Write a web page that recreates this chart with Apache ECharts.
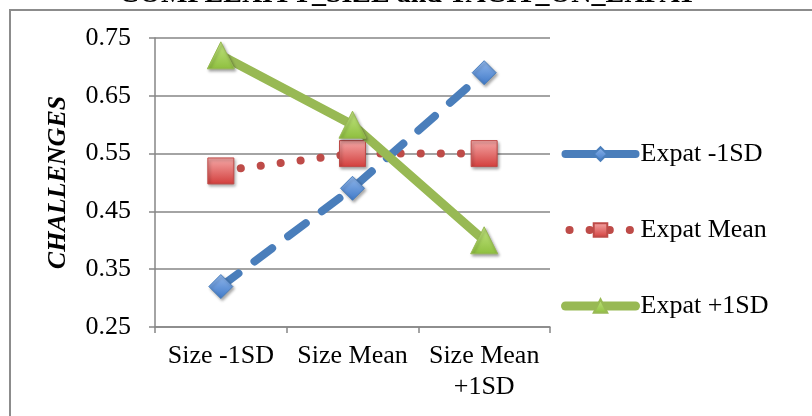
<!DOCTYPE html>
<html>
<head>
<meta charset="utf-8">
<script src="https://cdn.jsdelivr.net/npm/echarts@6/dist/echarts.min.js"></script>
<style>
  html, body { margin: 0; padding: 0; background: #fff; }
  #chart { width: 812px; height: 416px; }
</style>
</head>
<body>
<div id="chart"></div>
<script>
// Category labels along the x axis
var categories = ['Size -1SD', 'Size Mean', 'Size Mean\n+1SD'];

// Interaction values per expat level
var expatMinus1SD = [0.32, 0.49, 0.69];
var expatMean = [0.52, 0.55, 0.55];
var expatPlus1SD = [0.72, 0.60, 0.40];

var seriesNames = ['Expat -1SD', 'Expat Mean', 'Expat +1SD'];
var yTicks = { min: 0.25, max: 0.75, step: 0.1 };

var serif = '"Liberation Serif", "DejaVu Serif", serif';

var blue = '#4a7ebb', red = '#be4b48', green = '#98b954';

function grad(top, bottom) {
  return new echarts.graphic.LinearGradient(0, 0, 0, 1, [
    { offset: 0, color: top },
    { offset: 1, color: bottom }
  ]);
}

var markerShadow = {
  shadowBlur: 3,
  shadowOffsetX: 1.5,
  shadowOffsetY: 2,
  shadowColor: 'rgba(0,0,0,0.35)'
};

var chart = echarts.init(document.getElementById('chart'), null, { renderer: 'canvas' });

chart.setOption({
  animation: false,
  backgroundColor: '#fff',
  title: {
    text: 'COMPLEXITY_SIZE and TACIT_ON_EXPAT',
    left: 119,
    top: -19,
    padding: 0,
    textStyle: { fontFamily: serif, fontWeight: 'bold', fontSize: 28, color: '#000' }
  },
  graphic: [{
    type: 'rect',
    shape: { x: 10, y: 10, width: 820, height: 420 },
    style: { fill: 'none', stroke: '#8c8c8c', lineWidth: 2 },
    z: -1
  }],
  grid: { left: 155, top: 38, right: 262, bottom: 89 },
  legend: {
    orient: 'vertical',
    left: 561,
    top: 141,
    padding: 0,
    itemGap: 50,
    itemWidth: 70,
    itemHeight: 17,
    itemTextGap: 10,
    data: [
      { name: seriesNames[0], lineStyle: { width: 8, type: 'solid', cap: 'round' } },
      { name: seriesNames[1], lineStyle: { width: 8, type: [0.1, 20], cap: 'round', dashOffset: -4 } },
      { name: seriesNames[2], lineStyle: { width: 9, type: 'solid', cap: 'round' } }
    ],
    textStyle: { fontFamily: serif, fontSize: 26, lineHeight: 26, color: '#000' }
  },
  xAxis: {
    type: 'category',
    data: categories,
    boundaryGap: true,
    axisLine: { lineStyle: { color: '#868686', width: 1.5 } },
    axisTick: { show: true, length: 6, lineStyle: { color: '#868686', width: 1.5 } },
    axisLabel: { fontFamily: serif, fontSize: 26, color: '#000', margin: 14, lineHeight: 31, interval: 0 }
  },
  yAxis: {
    type: 'value',
    min: yTicks.min,
    max: yTicks.max,
    interval: yTicks.step,
    name: 'CHALLENGES',
    nameLocation: 'middle',
    nameGap: 84,
    nameTextStyle: { fontFamily: serif, fontSize: 26, fontWeight: 'bold', fontStyle: 'italic', color: '#000' },
    axisLine: { show: true, lineStyle: { color: '#868686', width: 1.5 } },
    axisTick: { show: true, length: 6, lineStyle: { color: '#868686', width: 1.5 } },
    axisLabel: {
      fontFamily: serif, fontSize: 26, color: '#000', margin: 24,
      formatter: function (v) { return v.toFixed(2); }
    },
    splitLine: { lineStyle: { color: '#868686', width: 1.5 } }
  },
  series: [
    {
      name: seriesNames[0],
      type: 'line',
      data: expatMinus1SD,
      symbol: 'diamond',
      symbolSize: 24,
      lineStyle: { color: blue, width: 8, type: [22, 20], cap: 'round' },
      itemStyle: Object.assign({ color: grad('#92b8ec', '#3f79c8'), borderColor: blue, borderWidth: 1 }, markerShadow),
      z: 3
    },
    {
      name: seriesNames[1],
      type: 'line',
      data: expatMean,
      symbol: 'rect',
      symbolSize: 26,
      lineStyle: { color: red, width: 8, type: [0.1, 20], cap: 'round' },
      itemStyle: Object.assign({ color: grad('#f5a9a8', '#d23e3c'), borderColor: red, borderWidth: 1 }, markerShadow),
      z: 2
    },
    {
      name: seriesNames[2],
      type: 'line',
      data: expatPlus1SD,
      symbol: 'triangle',
      symbolSize: 27,
      lineStyle: { color: green, width: 9 },
      itemStyle: Object.assign({ color: grad('#c3e582', '#8ebf3f'), borderColor: green, borderWidth: 1 }, markerShadow),
      z: 4
    }
  ]
});
</script>
</body>
</html>
